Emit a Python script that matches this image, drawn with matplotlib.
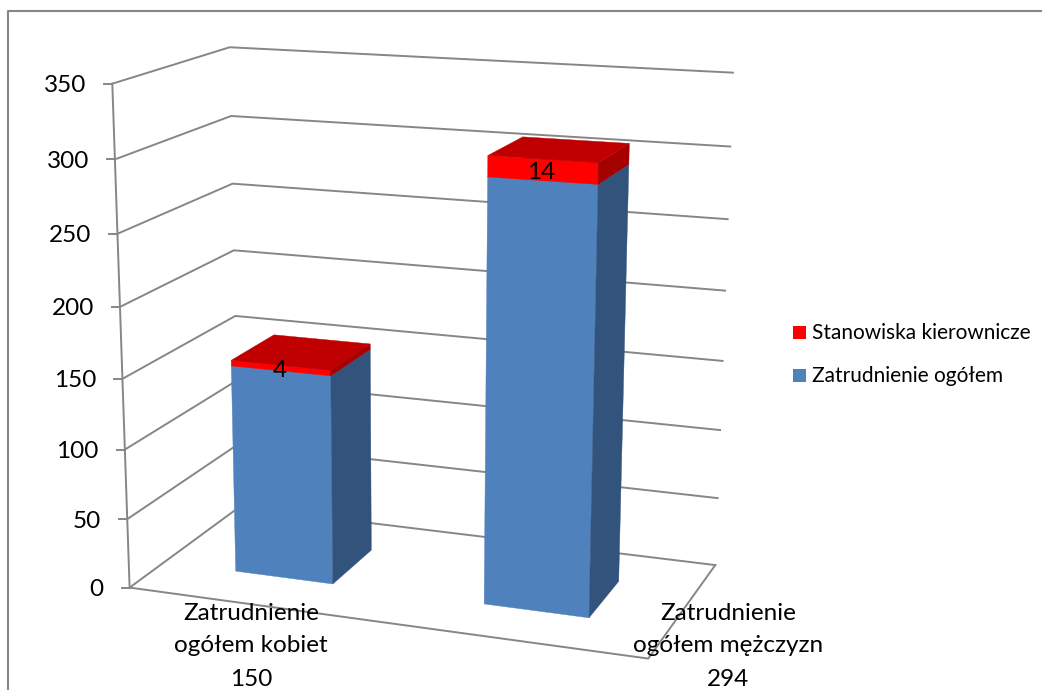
import matplotlib
matplotlib.use('Agg')
import matplotlib.pyplot as plt
from matplotlib.patches import Polygon, Rectangle
import numpy as np

# data
categories = ['Zatrudnienie\nogółem kobiet\n150', 'Zatrudnienie\nogółem mężczyzn\n294']
ogolem = [150, 294]
kierownicze = [4, 14]
y_ticks = [0, 50, 100, 150, 200, 250, 300, 350]
legend_names = ['Stanowiska kierownicze', 'Zatrudnienie ogółem']

plt.rcParams['font.family'] = ['Lato', 'DejaVu Sans']

# camera fit: (x along categories, value, depth) -> picture pixels
calib = [
    (0, 350, 0, 112, 84), (0, 300, 0, 115, 159.5), (0, 250, 0, 118, 233), (0, 200, 0, 120, 307),
    (0, 150, 0, 122, 379), (0, 100, 0, 125, 449), (0, 50, 0, 127, 519), (0, 0, 0, 130, 588),
    (0, 350, 1, 230, 47), (0, 300, 1, 231, 116), (0, 250, 1, 232.5, 184), (0, 200, 1, 234, 250),
    (0, 150, 1, 235, 316.5),
    (1, 350, 1, 733, 72.5), (1, 300, 1, 730, 146.7), (1, 250, 1, 727.7, 219), (1, 200, 1, 725, 291),
    (1, 50, 1, 718.3, 498.3), (1, 0, 1, 715, 564.3), (1, 0, 0, 648, 659),
]
A = []
b = []
for X, Y, Z, u, v in calib:
    A.append([X, Y, Z, 1, 0, 0, 0, 0, -u * X, -u * Y, -u * Z])
    b.append(u)
    A.append([0, 0, 0, 0, X, Y, Z, 1, -v * X, -v * Y, -v * Z])
    b.append(v)
A = np.array(A, dtype=float)
scale = np.array([1, 1 / 350, 1, 1, 1, 1 / 350, 1, 1, 1, 1 / 350, 1])
sol = np.linalg.lstsq(A * scale, np.array(b), rcond=None)[0] * scale
P = np.append(sol, 1).reshape(3, 4)


def proj(x, y, z):
    p = P @ np.array([x, y, z, 1.0])
    return p[0] / p[2], p[1] / p[2]


def draw_box(ax, x0, x1, y0, y1, front, side, top):
    z0, z1 = 0.3, 0.7
    faces = [
        ([(x0, y0, z0), (x1, y0, z0), (x1, y1, z0), (x0, y1, z0)], front),
        ([(x1, y0, z0), (x1, y0, z1), (x1, y1, z1), (x1, y1, z0)], side),
        ([(x0, y1, z0), (x1, y1, z0), (x1, y1, z1), (x0, y1, z1)], top),
    ]
    for corners, colour in faces:
        ax.add_patch(Polygon([proj(*c) for c in corners], closed=True, facecolor=colour,
                             edgecolor=colour, lw=0.3, zorder=3))


fig = plt.figure(figsize=(10.42, 6.9), dpi=100)
ax = fig.add_axes([0, 0, 1, 1])
ax.set_xlim(0, 1042)
ax.set_ylim(690, 0)
ax.axis('off')

grid = '#868686'
ax.plot([8, 8, 1042], [690, 10.5, 10.5], color=grid, lw=1.5)

for v in y_ticks:
    pts = [proj(0, v, 0), proj(0, v, 1), proj(1, v, 1)]
    ax.plot([p[0] for p in pts], [p[1] for p in pts], color=grid, lw=1.4, zorder=1)
    x0, y0 = pts[0]
    ax.plot([x0 - 8, x0], [y0, y0], color=grid, lw=1.4, zorder=1)
    ax.text(x0 - 26, y0 + 2, str(v), ha='right', va='center', fontsize=17.5, color='black')

pts = [proj(0, 350, 0), proj(0, 0, 0), proj(1, 0, 0), proj(1, 0, 1)]
ax.plot([p[0] for p in pts], [p[1] for p in pts], color=grid, lw=1.4, zorder=1)

# bars, back to front does not matter here since they do not overlap
for i in range(len(ogolem)):
    x0 = i * 0.5 + 0.15
    x1 = x0 + 0.2
    draw_box(ax, x0, x1, 0, ogolem[i], '#4F81BD', '#32547C', '#4F81BD')
    draw_box(ax, x0, x1, ogolem[i], ogolem[i] + kierownicze[i], '#FF0000', '#A50000', '#C00000')
    cx, cy = proj((x0 + x1) / 2, ogolem[i] + kierownicze[i] / 2, 0.3)
    ax.text(cx - 1, cy + 2.5, str(kierownicze[i]), ha='center', va='center', fontsize=17.5,
            color='black', zorder=5)

# category labels sit below the floor, the second one pushed out to the right
label_x = [251, 728]
for i in range(len(categories)):
    for j, line in enumerate(categories[i].split('\n')):
        ax.text(label_x[i], 613 + j * 33, line, ha='center', va='center', fontsize=17.5,
                color='black', zorder=5)

# legend
legend_colors = ['#FF0000', '#4F81BD']
for i in range(len(legend_names)):
    ax.add_patch(Rectangle((793, 326 + i * 43), 13, 13, facecolor=legend_colors[i], edgecolor='none'))
    ax.text(812, 333 + i * 43, legend_names[i], ha='left', va='center', fontsize=15, color='black')

fig.savefig('out.png', dpi=100)
